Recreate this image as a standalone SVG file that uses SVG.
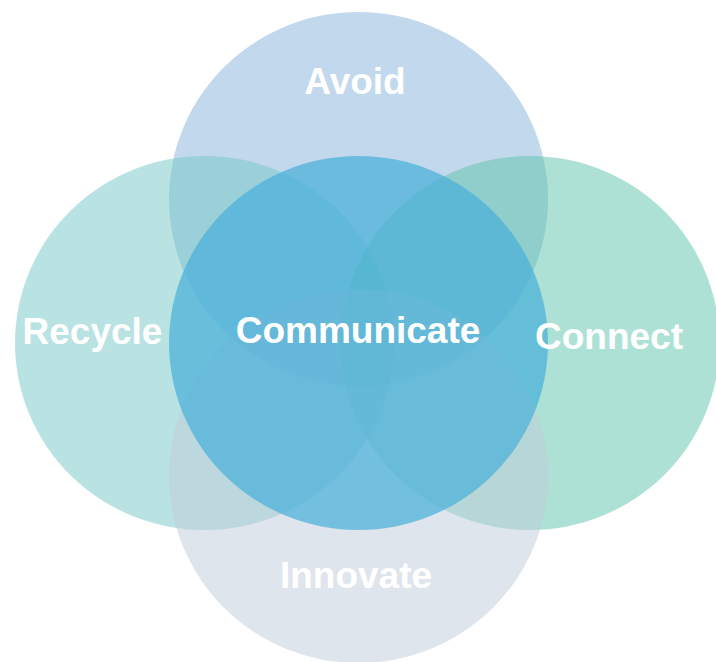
<svg xmlns="http://www.w3.org/2000/svg" width="716" height="662" viewBox="0 0 716 662">
<style>
.lbl{font-family:"Liberation Sans",Arial,sans-serif;font-weight:bold;font-size:37px;fill:#ffffff;text-anchor:middle}
</style>
<rect width="716" height="662" fill="#ffffff"/>
<g id="avoid">
<ellipse cx="358.5" cy="199" rx="189.5" ry="187" fill="#85b1d9" fill-opacity="0.5"/>
</g>
<g id="recycle">
<ellipse cx="204.5" cy="343" rx="189.5" ry="187" fill="#74c8c6" fill-opacity="0.5"/>
</g>
<g id="connect">
<ellipse cx="530" cy="343" rx="189.5" ry="187" fill="#5dc4ab" fill-opacity="0.5"/>
</g>
<g id="innovate">
<ellipse cx="358.5" cy="476" rx="189.5" ry="187" fill="#bfcbda" fill-opacity="0.5"/>
</g>
<g id="communicate">
<ellipse cx="358.5" cy="343" rx="189.5" ry="187" fill="#4ab0da" fill-opacity="0.72"/>
</g>
<g id="labels">
<text class="lbl" x="355" y="94">Avoid</text>
<text class="lbl" x="92.5" y="344">Recycle</text>
<text class="lbl" x="358" y="343">Communicate</text>
<text class="lbl" x="609" y="349">Connect</text>
<text class="lbl" x="356" y="588">Innovate</text>
</g>
<g id="connectors"></g>
</svg>
